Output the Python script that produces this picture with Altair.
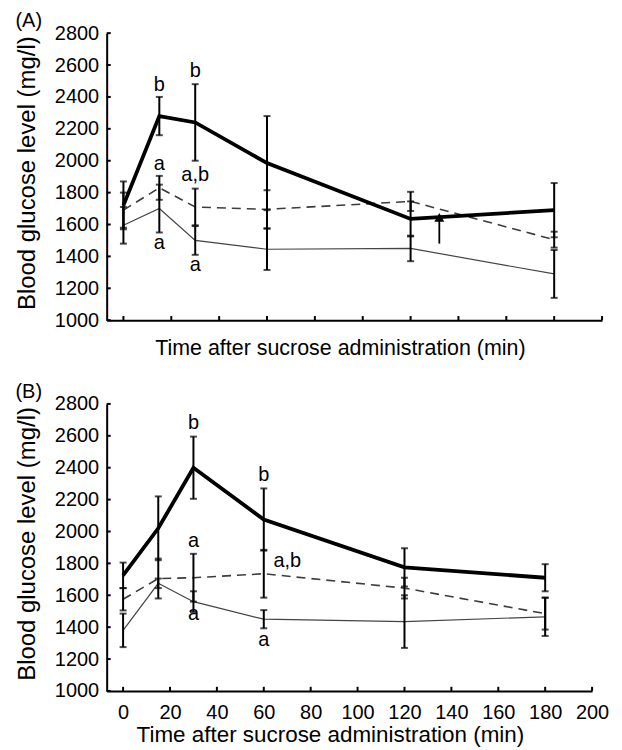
import altair as alt
import pandas as pd

FONT = "Liberation Sans"

times = [0, 15, 30, 60, 120, 180]

# Panel A
A_thick = [1720, 2280, 2240, 1985, 1635, 1690]
A_thick_sd = [150, 120, 240, 295, 110, 170]
A_dash = [1690, 1830, 1710, 1695, 1745, 1505]
A_dash_sd = [110, 75, 115, 120, 60, 50]
A_thin = [1595, 1700, 1500, 1445, 1450, 1290]
A_thin_sd = [115, 150, 90, 130, 80, 150]
A_text = ["b", "b", "a", "a,b", "a", "a"]
A_text_t = [15, 30, 15, 30, 15, 30]
A_text_y = [2475, 2560, 1980, 1910, 1485, 1345]
A_arrow_t = [132]
A_arrow_from = [1480]
A_arrow_to = [1645]

# Panel B
B_thick = [1725, 2020, 2400, 2075, 1775, 1710]
B_thick_sd = [80, 200, 195, 195, 120, 85]
B_dash = [1575, 1705, 1710, 1735, 1645, 1485]
B_dash_sd = [70, 125, 150, 150, 65, 100]
B_thin = [1380, 1675, 1560, 1450, 1435, 1465]
B_thin_sd = [105, 30, 65, 57, 165, 120]
B_text = ["b", "b", "a", "a,b", "a", "a"]
B_text_t = [30, 60, 30, 70, 30, 60]
B_text_y = [2680, 2355, 1940, 1815, 1480, 1320]

x_ticks = list(range(0, 201, 20))
y_ticks = list(range(1000, 2801, 200))
x_title = "Time after sucrose administration (min)"
y_title = "Blood glucose level (mg/l)"


def panel_df(thick, thick_sd, dash, dash_sd, thin, thin_sd):
    rows = []
    for name, m, s in [("thick", thick, thick_sd), ("dash", dash, dash_sd), ("thin", thin, thin_sd)]:
        for t, v, e in zip(times, m, s):
            rows.append(dict(series=name, t=t, mean=v, lo=v - e, hi=v + e))
    return pd.DataFrame(rows)


def make_panel(df, texts, text_t, text_y, label, show_labels, width, xtitle_size, xtitle_x,
               xtitle_pad, arrow=None):
    xs = alt.Scale(domain=[-7, 200], nice=False)
    ys = alt.Scale(domain=[1000, 2800], nice=False)
    xaxis = alt.Axis(values=x_ticks, labels=show_labels, tickSize=0, domainWidth=2,
                     domainColor="black", labelFontSize=20, labelFont=FONT, labelColor="black",
                     labelPadding=12, labelOverlap=False, labelFlush=False, format="d",
                     title=x_title, titleFontSize=xtitle_size, titleFont=FONT,
                     titleFontWeight="normal", titleColor="black", titleX=xtitle_x,
                     titleAlign="center", titlePadding=xtitle_pad, grid=False)
    yaxis = alt.Axis(values=y_ticks, tickSize=0, domainWidth=2, domainColor="black",
                     labelFontSize=20, labelFont=FONT, labelColor="black", labelPadding=8,
                     labelFlush=False, format="d", title=y_title, titleFontSize=24,
                     titleFont=FONT, titleFontWeight="normal", titleColor="black",
                     titleY=140, titleAlign="center", titlePadding=15, grid=False)
    X = lambda f: alt.X(f, type="quantitative", scale=xs, axis=xaxis)
    Y = lambda f: alt.Y(f, type="quantitative", scale=ys, axis=yaxis)

    base = alt.Chart(df)
    thick = base.transform_filter(alt.datum.series == "thick").mark_line(
        color="black", strokeWidth=3.8).encode(x=X("t"), y=Y("mean"))
    dash = base.transform_filter(alt.datum.series == "dash").mark_line(
        color="#3c3c3c", strokeWidth=1.6, strokeDash=[9, 6]).encode(x=X("t"), y=Y("mean"))
    thin = base.transform_filter(alt.datum.series == "thin").mark_line(
        color="#444444", strokeWidth=1.2).encode(x=X("t"), y=Y("mean"))
    err = base.mark_rule(color="black", strokeWidth=2).encode(
        x=X("t"), y=Y("lo"), y2=alt.Y2("hi"))
    cap_lo = base.mark_tick(orient="horizontal", size=7, thickness=2, color="black").encode(
        x=X("t"), y=Y("lo"))
    cap_hi = base.mark_tick(orient="horizontal", size=7, thickness=2, color="black").encode(
        x=X("t"), y=Y("hi"))

    tdf = pd.DataFrame({"txt": texts, "t": text_t, "y": text_y})
    txt = alt.Chart(tdf).mark_text(fontSize=20, font=FONT, color="black", baseline="middle").encode(
        x=X("t"), y=Y("y"), text="txt:N")

    xt = alt.Chart(pd.DataFrame({"v": x_ticks})).mark_rule(color="black", strokeWidth=2).encode(
        x=X("v"), y=alt.YDatum(1000, scale=ys, axis=yaxis), y2=alt.datum(1026))
    yt = alt.Chart(pd.DataFrame({"v": y_ticks})).mark_rule(color="black", strokeWidth=2).encode(
        y=Y("v"), x=alt.XDatum(-7, scale=xs, axis=xaxis), x2=alt.datum(-5.3))

    layers = [dash, thin, thick, err, cap_lo, cap_hi, txt, xt, yt]
    if arrow is not None:
        adf = pd.DataFrame({"t": arrow[0], "lo": arrow[1], "hi": arrow[2]})
        layers.append(alt.Chart(adf).mark_rule(color="black", strokeWidth=1.8).encode(
            x=X("t"), y=Y("lo"), y2=alt.Y2("hi")))
        layers.append(alt.Chart(adf).mark_point(shape="triangle-up", filled=True, size=100,
                                                color="black", opacity=1).encode(
            x=X("t"), y=Y("hi")))

    return alt.layer(*layers).properties(
        width=width, height=288,
        title=alt.TitleParams(label, anchor="start", fontSize=20, font=FONT,
                              fontWeight="normal", color="black", offset=-8))


dfA = panel_df(A_thick, A_thick_sd, A_dash, A_dash_sd, A_thin, A_thin_sd)
dfB = panel_df(B_thick, B_thick_sd, B_dash, B_dash_sd, B_thin, B_thin_sd)

pA = make_panel(dfA, A_text, A_text_t, A_text_y, "(A)", False, 497, 21.5, 234, 17,
                arrow=(A_arrow_t, A_arrow_from, A_arrow_to))
pB = make_panel(dfB, B_text, B_text_t, B_text_y, "(B)", True, 487, 22.5, 224, 1)

chart = alt.vconcat(pA, pB, spacing=23).properties(
    padding={"left": 7, "top": 2, "right": 5, "bottom": 0}
).configure(background="white").configure_view(stroke=None)

chart.save("out.html", embed_options={"renderer": "svg", "actions": False})
